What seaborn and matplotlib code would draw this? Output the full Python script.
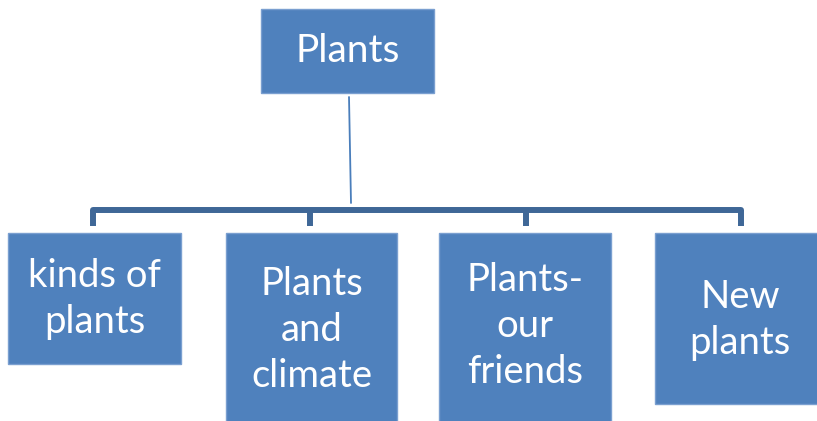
import matplotlib
matplotlib.use("Agg")
import matplotlib.pyplot as plt
from matplotlib.patches import Rectangle
import seaborn as sns
import pandas as pd

# ---- data ----
root_label = "Plants"
child_labels = ["kinds of\nplants", "Plants\nand\nclimate", "Plants-\nour\nfriends", "New\nplants"]

# ---- layout (pixel coordinates, y downwards) ----
root_box = (261, 9, 173, 84)          # x, y, w, h
child_boxes = [(8, 233, 173, 131),
               (226, 233, 171, 200),
               (439, 233, 172, 200),
               (655, 233, 170, 171)]
child_text_y = [299, 330, 326, 320]
drop_x = [93, 310, 526, 741]
bus_y = 210
drop_bottom = 226

sns.set_theme(style="white")
plt.rcParams["font.family"] = ["Lato", "DejaVu Sans"]

fig = plt.figure(figsize=(8.17, 4.21), dpi=100)
ax = fig.add_axes([0, 0, 1, 1])
ax.set_xlim(0, 817)
ax.set_ylim(421, 0)
ax.axis("off")

fill = "#4f81bd"
edge = "#7a9fd0"
bus_color = "#3f6797"

# connector: thin vertical line from root
vline = pd.DataFrame({"x": [349, 351], "y": [97, 203]})
sns.lineplot(data=vline, x="x", y="y", ax=ax, color="#4a7ebb", linewidth=1.3,
             sort=False, estimator=None)

# horizontal bus
bus = pd.DataFrame({"x": [drop_x[0], drop_x[-1]], "y": [bus_y, bus_y]})
sns.lineplot(data=bus, x="x", y="y", ax=ax, color=bus_color, linewidth=4.3,
             sort=False, estimator=None, solid_capstyle="round")
for dx in drop_x:
    d = pd.DataFrame({"x": [dx, dx], "y": [bus_y, drop_bottom]})
    sns.lineplot(data=d, x="x", y="y", ax=ax, color=bus_color, linewidth=4.3,
                 sort=False, estimator=None, solid_capstyle="butt")

# boxes
def draw_box(b, label, ty, size):
    x, y, w, h = b
    ax.add_patch(Rectangle((x, y), w, h, facecolor=fill, edgecolor=edge,
                           linewidth=1, zorder=3))
    ax.text(x + w / 2, ty, label, ha="center", va="center", color="white",
            fontsize=size, linespacing=1.35, zorder=4)

draw_box(root_box, root_label, 51, 28)
for b, lab, ty in zip(child_boxes, child_labels, child_text_y):
    draw_box(b, lab, ty, 27.5)

ax.set_xlabel("")
ax.set_ylabel("")
fig.savefig("out.png", dpi=100)
